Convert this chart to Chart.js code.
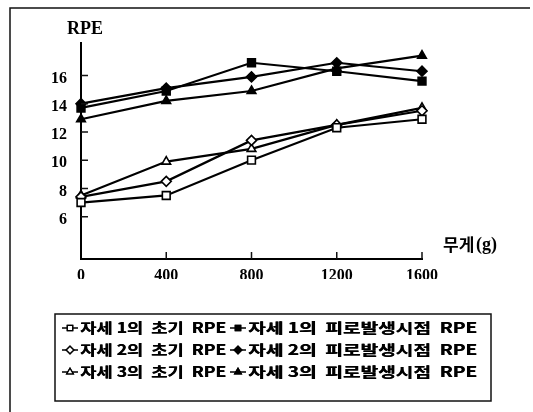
<!DOCTYPE html>
<html>
<head>
<meta charset="utf-8">
<script src="https://cdn.jsdelivr.net/npm/chart.js@4.4.1/dist/chart.umd.min.js"></script>
<style>
  html, body { margin: 0; padding: 0; background: #fff; }
  #wrap { width: 533px; height: 412px; }
</style>
</head>
<body>
<div id="wrap"><canvas id="rpe"></canvas></div>
<script>
// DATA
const weights = ["0", "400", "800", "1200", "1600"];
const yTicks = [6, 8, 10, 12, 14, 16];

const pose1Init = [7.0, 7.5, 10.0, 12.3, 12.9];
const pose2Init = [7.4, 8.5, 11.4, 12.5, 13.5];
const pose3Init = [7.5, 9.9, 10.8, 12.5, 13.7];
const pose1Fatigue = [13.7, 14.9, 16.9, 16.3, 15.6];
const pose2Fatigue = [14.0, 15.1, 15.9, 16.9, 16.3];
const pose3Fatigue = [12.9, 14.2, 14.9, 16.5, 17.4];

const labels = [
  "자세 1의  초기  RPE",
  "자세 1의  피로발생시점  RPE",
  "자세 2의  초기  RPE",
  "자세 2의  피로발생시점  RPE",
  "자세 3의  초기  RPE",
  "자세 3의  피로발생시점  RPE",
];

function series(label, data, style, filled) {
  return {
    label: label,
    data: data,
    borderColor: "#000",
    borderWidth: 2.2,
    pointStyle: style,
    pointRadius: style === "rect" ? 5.5 : 5,
    pointBorderWidth: 1.6,
    pointBorderColor: "#000",
    pointBackgroundColor: filled ? "#000" : "#fff",
    tension: 0,
  };
}

// frame, inner ticks, axis titles and the 2-column legend
const decor = {
  id: "decor",
  afterDraw(chart) {
    const ctx = chart.ctx;
    const x = chart.scales.x;
    const y = chart.scales.y;
    const area = chart.chartArea;
    ctx.save();
    ctx.strokeStyle = "#111";
    ctx.lineWidth = 1.5;

    // outer frame (left and top only)
    ctx.beginPath();
    ctx.moveTo(10, 412);
    ctx.lineTo(10, 8);
    ctx.lineTo(530, 8);
    ctx.stroke();

    // inward tick marks
    ctx.beginPath();
    yTicks.forEach((v) => {
      const py = y.getPixelForValue(v);
      ctx.moveTo(area.left, py);
      ctx.lineTo(area.left + 7, py);
    });
    weights.forEach((w, i) => {
      if (i === 0) return;
      const px = x.getPixelForValue(i);
      ctx.moveTo(px, area.bottom);
      ctx.lineTo(px, area.bottom - 7);
    });
    ctx.stroke();

    // axis titles
    ctx.fillStyle = "#000";
    ctx.font = "bold 18px 'Liberation Serif'";
    ctx.textAlign = "center";
    ctx.textBaseline = "middle";
    ctx.fillText("RPE", area.left + 4, 29);
    ctx.textAlign = "left";
    ctx.font = "bold 17px 'Noto Sans CJK KR'";
    ctx.fillText("무게", area.right + 21, area.bottom - 14);
    ctx.font = "bold 18px 'Liberation Serif'";
    ctx.fillText("(g)", area.right + 54, area.bottom - 14);

    // legend box
    ctx.lineWidth = 1.5;
    ctx.strokeRect(55, 314, 436, 87);
    const cols = [62, 230];
    const ends = [226, 477];
    const rows = [328, 350, 372];
    ctx.font = "bold 14px 'Noto Sans CJK KR'";
    chart.data.datasets.forEach((ds, i) => {
      const col = i % 2;
      const cx = cols[col];
      const cy = rows[Math.floor(i / 2)];
      ctx.lineWidth = 1.5;
      ctx.strokeStyle = "#000";
      ctx.beginPath();
      ctx.moveTo(cx, cy);
      ctx.lineTo(cx + 16, cy);
      ctx.stroke();
      ctx.fillStyle = ds.pointBackgroundColor;
      ctx.lineWidth = 1.3;
      Chart.helpers.drawPoint(ctx, { pointStyle: ds.pointStyle, radius: 3.8, rotation: 0, borderWidth: 1.3 }, cx + 8, cy);
      ctx.fill();
      ctx.stroke();
      // stretch the label to the width it has in the print
      const tx = cx + 18;
      const w = ctx.measureText(ds.label).width;
      const sx = Math.max(1, (ends[col] - tx) / w);
      ctx.save();
      ctx.translate(tx, cy);
      ctx.scale(sx, 1);
      ctx.fillStyle = "#000";
      ctx.textAlign = "left";
      ctx.fillText(ds.label, 0, 0);
      ctx.fillText(ds.label, 0.4, 0);
      ctx.restore();
    });
    ctx.restore();
  },
};

Chart.defaults.font.family = "'Liberation Serif'";
Chart.defaults.font.weight = "bold";
Chart.defaults.color = "#000";

new Chart(document.getElementById("rpe"), {
  type: "line",
  data: {
    labels: weights,
    datasets: [
      series(labels[0], pose1Init, "rect", false),
      series(labels[1], pose1Fatigue, "rect", true),
      series(labels[2], pose2Init, "rectRot", false),
      series(labels[3], pose2Fatigue, "rectRot", true),
      series(labels[4], pose3Init, "triangle", false),
      series(labels[5], pose3Fatigue, "triangle", true),
    ],
  },
  options: {
    responsive: true,
    maintainAspectRatio: false,
    animation: false,
    layout: { padding: { left: 51, right: 111, top: 43, bottom: 133 } },
    plugins: { legend: { display: false }, tooltip: { enabled: false } },
    scales: {
      x: {
        offset: false,
        grid: { display: true, drawOnChartArea: false, drawTicks: false },
        border: { display: true, color: "#000", width: 2 },
        ticks: { padding: 7, font: { size: 16 }, maxRotation: 0 },
        afterFit: (s) => { s.height = 20; },
      },
      y: {
        min: 3,
        max: 18.3,
        grid: { display: true, drawOnChartArea: false, drawTicks: false },
        border: { display: true, color: "#000", width: 2 },
        ticks: { padding: 14, font: { size: 16 }, labelOffset: 3 },
        afterBuildTicks: (s) => { s.ticks = yTicks.map((v) => ({ value: v })); },
        afterFit: (s) => { s.width = 30; },
      },
    },
  },
  plugins: [decor],
});
</script>
</body>
</html>
